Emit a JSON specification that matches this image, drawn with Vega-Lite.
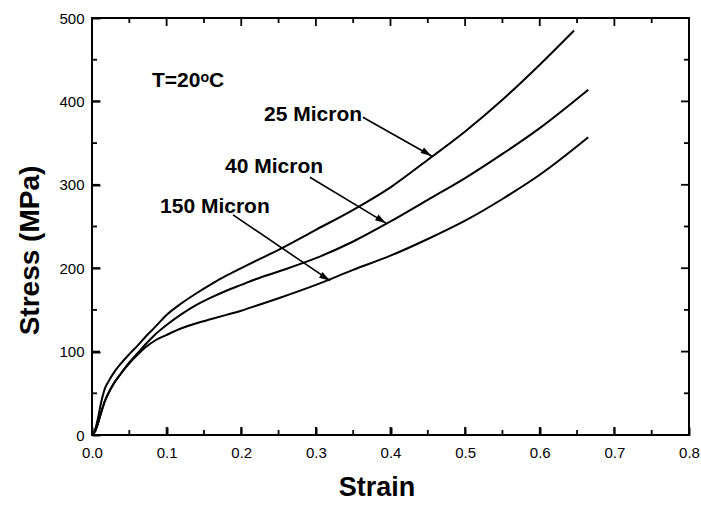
{
  "$schema": "https://vega.github.io/schema/vega-lite/v6.json",
  "width": 597,
  "height": 417,
  "autosize": {"type": "none"},
  "padding": {"left": 92, "top": 18, "right": 12, "bottom": 70},
  "background": "white",
  "config": {
    "view": {"stroke": "black", "strokeWidth": 2},
    "font": "Liberation Sans",
    "axis": {"grid": false, "domain": false, "ticks": true, "tickColor": "black", "tickWidth": 2, "labelColor": "black", "titleColor": "black", "labelFont": "Liberation Sans", "titleFont": "Liberation Sans"}
  },
  "datasets": {
    "curves": [
      {"series": "25 Micron", "strain": 0, "stress": 0},
      {"series": "25 Micron", "strain": 0.004, "stress": 6},
      {"series": "25 Micron", "strain": 0.008, "stress": 20},
      {"series": "25 Micron", "strain": 0.012, "stress": 38},
      {"series": "25 Micron", "strain": 0.017, "stress": 55},
      {"series": "25 Micron", "strain": 0.022, "stress": 64},
      {"series": "25 Micron", "strain": 0.028, "stress": 73},
      {"series": "25 Micron", "strain": 0.039, "stress": 86},
      {"series": "25 Micron", "strain": 0.05, "stress": 97},
      {"series": "25 Micron", "strain": 0.062, "stress": 108},
      {"series": "25 Micron", "strain": 0.073, "stress": 119},
      {"series": "25 Micron", "strain": 0.084, "stress": 129},
      {"series": "25 Micron", "strain": 0.1, "stress": 144},
      {"series": "25 Micron", "strain": 0.12, "stress": 158},
      {"series": "25 Micron", "strain": 0.14, "stress": 170},
      {"series": "25 Micron", "strain": 0.16, "stress": 181},
      {"series": "25 Micron", "strain": 0.18, "stress": 191},
      {"series": "25 Micron", "strain": 0.2, "stress": 200},
      {"series": "25 Micron", "strain": 0.22, "stress": 209},
      {"series": "25 Micron", "strain": 0.25, "stress": 222},
      {"series": "25 Micron", "strain": 0.3, "stress": 246},
      {"series": "25 Micron", "strain": 0.35, "stress": 270},
      {"series": "25 Micron", "strain": 0.4, "stress": 297},
      {"series": "25 Micron", "strain": 0.45, "stress": 330},
      {"series": "25 Micron", "strain": 0.5, "stress": 364},
      {"series": "25 Micron", "strain": 0.55, "stress": 402},
      {"series": "25 Micron", "strain": 0.6, "stress": 444},
      {"series": "25 Micron", "strain": 0.646, "stress": 485},
      {"series": "40 Micron", "strain": 0, "stress": 0},
      {"series": "40 Micron", "strain": 0.004, "stress": 4},
      {"series": "40 Micron", "strain": 0.008, "stress": 14},
      {"series": "40 Micron", "strain": 0.012, "stress": 26},
      {"series": "40 Micron", "strain": 0.017, "stress": 40},
      {"series": "40 Micron", "strain": 0.022, "stress": 50},
      {"series": "40 Micron", "strain": 0.028, "stress": 60},
      {"series": "40 Micron", "strain": 0.039, "stress": 74},
      {"series": "40 Micron", "strain": 0.05, "stress": 87},
      {"series": "40 Micron", "strain": 0.062, "stress": 99},
      {"series": "40 Micron", "strain": 0.073, "stress": 110},
      {"series": "40 Micron", "strain": 0.084, "stress": 120},
      {"series": "40 Micron", "strain": 0.1, "stress": 132},
      {"series": "40 Micron", "strain": 0.12, "stress": 145},
      {"series": "40 Micron", "strain": 0.14, "stress": 156},
      {"series": "40 Micron", "strain": 0.16, "stress": 165},
      {"series": "40 Micron", "strain": 0.18, "stress": 173},
      {"series": "40 Micron", "strain": 0.2, "stress": 180},
      {"series": "40 Micron", "strain": 0.22, "stress": 187},
      {"series": "40 Micron", "strain": 0.25, "stress": 196},
      {"series": "40 Micron", "strain": 0.3, "stress": 212},
      {"series": "40 Micron", "strain": 0.35, "stress": 232},
      {"series": "40 Micron", "strain": 0.4, "stress": 256},
      {"series": "40 Micron", "strain": 0.45, "stress": 282},
      {"series": "40 Micron", "strain": 0.5, "stress": 308},
      {"series": "40 Micron", "strain": 0.55, "stress": 337},
      {"series": "40 Micron", "strain": 0.6, "stress": 368},
      {"series": "40 Micron", "strain": 0.665, "stress": 414},
      {"series": "150 Micron", "strain": 0, "stress": 0},
      {"series": "150 Micron", "strain": 0.004, "stress": 4},
      {"series": "150 Micron", "strain": 0.008, "stress": 14},
      {"series": "150 Micron", "strain": 0.012, "stress": 26},
      {"series": "150 Micron", "strain": 0.017, "stress": 40},
      {"series": "150 Micron", "strain": 0.022, "stress": 50},
      {"series": "150 Micron", "strain": 0.028, "stress": 60},
      {"series": "150 Micron", "strain": 0.039, "stress": 74},
      {"series": "150 Micron", "strain": 0.05, "stress": 86},
      {"series": "150 Micron", "strain": 0.062, "stress": 97},
      {"series": "150 Micron", "strain": 0.073, "stress": 106},
      {"series": "150 Micron", "strain": 0.084, "stress": 113},
      {"series": "150 Micron", "strain": 0.1, "stress": 120},
      {"series": "150 Micron", "strain": 0.12, "stress": 128},
      {"series": "150 Micron", "strain": 0.14, "stress": 134},
      {"series": "150 Micron", "strain": 0.16, "stress": 139},
      {"series": "150 Micron", "strain": 0.18, "stress": 144},
      {"series": "150 Micron", "strain": 0.2, "stress": 149},
      {"series": "150 Micron", "strain": 0.22, "stress": 155},
      {"series": "150 Micron", "strain": 0.25, "stress": 164},
      {"series": "150 Micron", "strain": 0.3, "stress": 180},
      {"series": "150 Micron", "strain": 0.35, "stress": 198},
      {"series": "150 Micron", "strain": 0.4, "stress": 215},
      {"series": "150 Micron", "strain": 0.45, "stress": 235},
      {"series": "150 Micron", "strain": 0.5, "stress": 257},
      {"series": "150 Micron", "strain": 0.55, "stress": 283},
      {"series": "150 Micron", "strain": 0.6, "stress": 312},
      {"series": "150 Micron", "strain": 0.665, "stress": 357}
    ],
    "arrows": [
      {"label": "25 Micron", "strain": 0.363, "stress": 381, "strain2": 0.455, "stress2": 334.5},
      {"label": "40 Micron", "strain": 0.292, "stress": 309, "strain2": 0.394, "stress2": 254},
      {"label": "150 Micron", "strain": 0.189, "stress": 264, "strain2": 0.319, "stress2": 185}
    ],
    "notes": [
      {"label": "T=20ᵒC", "strain": 0.0804, "stress": 417},
      {"label": "25 Micron", "strain": 0.2306, "stress": 376.5},
      {"label": "40 Micron", "strain": 0.1783, "stress": 314},
      {"label": "150 Micron", "strain": 0.0912, "stress": 266}
    ],
    "xmajor": [{"v": 0.1}, {"v": 0.2}, {"v": 0.3}, {"v": 0.4}, {"v": 0.5}, {"v": 0.6}, {"v": 0.7}],
    "xminor": [{"v": 0.05}, {"v": 0.15}, {"v": 0.25}, {"v": 0.35}, {"v": 0.45}, {"v": 0.55}, {"v": 0.65}, {"v": 0.75}],
    "ymajor": [{"v": 100}, {"v": 200}, {"v": 300}, {"v": 400}],
    "yminor": [{"v": 50}, {"v": 150}, {"v": 250}, {"v": 350}, {"v": 450}]
  },
  "resolve": {"axis": {"x": "independent", "y": "independent"}},
  "layer": [
    {
      "data": {"name": "curves"},
      "mark": {"type": "line", "color": "black", "strokeWidth": 2, "interpolate": "monotone"},
      "encoding": {
        "x": {"field": "strain", "type": "quantitative", "scale": {"domain": [0, 0.8], "nice": false},
          "axis": {"orient": "bottom", "values": [0, 0.1, 0.2, 0.3, 0.4, 0.5, 0.6, 0.7, 0.8],
            "format": ".1f", "ticks": true, "tickSize": 8, "offset": -8, "tickColor": "black",
            "labelFontSize": 15, "labelPadding": 10, "labelFlush": false,
            "title": "Strain", "titleFontSize": 27, "titleFontWeight": "bold", "titleX": 284.5, "titleY": 68, "titleBaseline": "alphabetic"}},
        "y": {"field": "stress", "type": "quantitative", "scale": {"domain": [0, 500], "nice": false},
          "axis": {"orient": "left", "values": [0, 100, 200, 300, 400, 500],
            "ticks": true, "tickSize": 8, "offset": -8, "tickColor": "black",
            "labelFontSize": 15, "labelPadding": 8, "labelFlush": false,
            "title": "Stress (MPa)", "titleFontSize": 28, "titleFontWeight": "bold", "titleX": -62, "titleY": 232, "titleBaseline": "alphabetic", "titleAlign": "center", "titleAngle": -90}},
        "detail": {"field": "series"}
      }
    },
    {
      "data": {"name": "arrows"},
      "mark": {"type": "rule", "color": "black", "strokeWidth": 1.6},
      "encoding": {
        "x": {"field": "strain", "type": "quantitative", "axis": null},
        "y": {"field": "stress", "type": "quantitative", "axis": null},
        "x2": {"field": "strain2"},
        "y2": {"field": "stress2"}
      }
    },
    {
      "data": {"name": "arrows"},
      "mark": {"type": "point", "shape": "M0,0L-1,-0.3L-1,0.3Z", "filled": true, "color": "black", "opacity": 1, "size": 480, "angle": 32},
      "encoding": {
        "x": {"field": "strain2", "type": "quantitative", "axis": null},
        "y": {"field": "stress2", "type": "quantitative", "axis": null}
      }
    },
    {
      "data": {"name": "notes"},
      "mark": {"type": "text", "align": "left", "baseline": "alphabetic", "fontSize": 21, "fontWeight": "bold", "font": "Liberation Sans", "color": "black"},
      "encoding": {
        "x": {"field": "strain", "type": "quantitative", "axis": null},
        "y": {"field": "stress", "type": "quantitative", "axis": null},
        "text": {"field": "label"}
      }
    },
    {
      "data": {"name": "xmajor"},
      "mark": {"type": "rule", "color": "black", "strokeWidth": 1.8},
      "encoding": {"x": {"field": "v", "type": "quantitative", "axis": null}, "y": {"datum": 0, "type": "quantitative", "axis": null}, "y2": {"datum": 9.6}}
    },
    {
      "data": {"name": "xmajor"},
      "mark": {"type": "rule", "color": "black", "strokeWidth": 1.8},
      "encoding": {"x": {"field": "v", "type": "quantitative", "axis": null}, "y": {"datum": 500, "type": "quantitative", "axis": null}, "y2": {"datum": 490.4}}
    },
    {
      "data": {"name": "xminor"},
      "mark": {"type": "rule", "color": "black", "strokeWidth": 1.8},
      "encoding": {"x": {"field": "v", "type": "quantitative", "axis": null}, "y": {"datum": 0, "type": "quantitative", "axis": null}, "y2": {"datum": 6}}
    },
    {
      "data": {"name": "xminor"},
      "mark": {"type": "rule", "color": "black", "strokeWidth": 1.8},
      "encoding": {"x": {"field": "v", "type": "quantitative", "axis": null}, "y": {"datum": 500, "type": "quantitative", "axis": null}, "y2": {"datum": 494}}
    },
    {
      "data": {"name": "ymajor"},
      "mark": {"type": "rule", "color": "black", "strokeWidth": 1.8},
      "encoding": {"y": {"field": "v", "type": "quantitative", "axis": null}, "x": {"datum": 0, "type": "quantitative", "axis": null}, "x2": {"datum": 0.0107}}
    },
    {
      "data": {"name": "ymajor"},
      "mark": {"type": "rule", "color": "black", "strokeWidth": 1.8},
      "encoding": {"y": {"field": "v", "type": "quantitative", "axis": null}, "x": {"datum": 0.8, "type": "quantitative", "axis": null}, "x2": {"datum": 0.7893}}
    },
    {
      "data": {"name": "yminor"},
      "mark": {"type": "rule", "color": "black", "strokeWidth": 1.8},
      "encoding": {"y": {"field": "v", "type": "quantitative", "axis": null}, "x": {"datum": 0, "type": "quantitative", "axis": null}, "x2": {"datum": 0.0067}}
    },
    {
      "data": {"name": "yminor"},
      "mark": {"type": "rule", "color": "black", "strokeWidth": 1.8},
      "encoding": {"y": {"field": "v", "type": "quantitative", "axis": null}, "x": {"datum": 0.8, "type": "quantitative", "axis": null}, "x2": {"datum": 0.7933}}
    }
  ]
}
